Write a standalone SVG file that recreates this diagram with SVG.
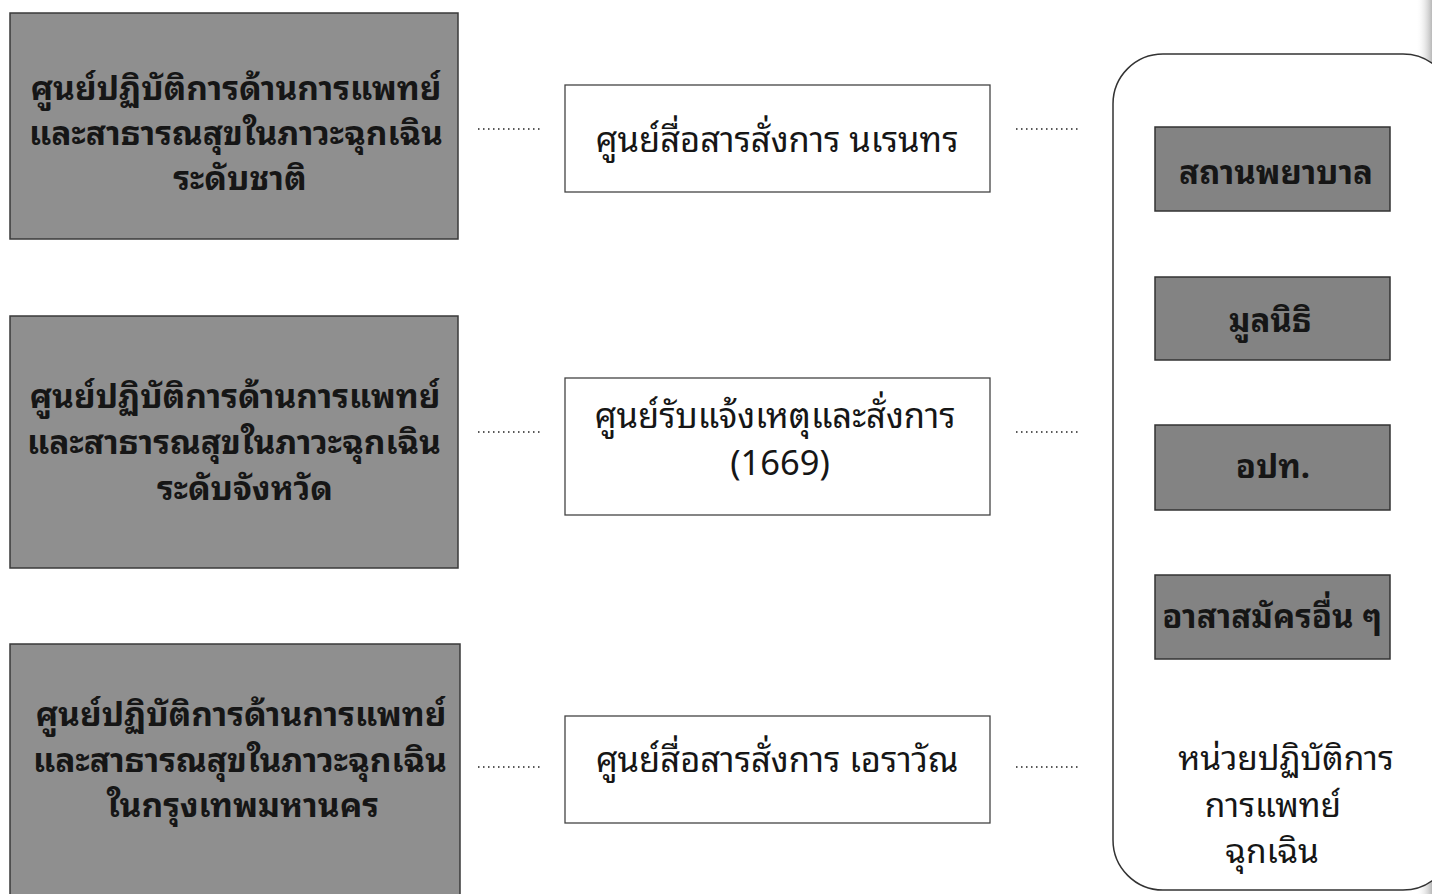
<svg xmlns="http://www.w3.org/2000/svg" width="1432" height="894" viewBox="0 0 1432 894">
<defs>
<linearGradient id="gutter" x1="0" y1="0" x2="1" y2="0">
<stop offset="0" stop-color="#ffffff" stop-opacity="0"/>
<stop offset="1" stop-color="#b8b8b8"/>
</linearGradient>
</defs>
<style>
text{font-family:"Noto Sans Thai Looped","Noto Sans Thai","Noto Sans","DejaVu Sans",sans-serif;fill:#161616;text-anchor:middle}
.lbox{fill:#8f8f8f;stroke:#3a3a3a;stroke-width:1.5}
.mbox{fill:#ffffff;stroke:#444;stroke-width:1.3}
.rbox{fill:#838383;stroke:#333;stroke-width:1.5}
.lt{font-size:33.5px;font-weight:bold}
.mt{font-size:34.5px}
.rt{font-size:33px;font-weight:bold}
.ct{font-size:33.5px}
.dot{stroke:#222;stroke-width:1.6;stroke-dasharray:1.5 3.5;fill:none}
</style>
<rect width="1432" height="894" fill="#ffffff"/>
<rect x="1416" y="0" width="16" height="894" fill="url(#gutter)"/>

<g id="national">
<rect class="lbox" x="10" y="13" width="448" height="226"/>
<text class="lt" x="236" y="100">ศูนย์ปฏิบัติการด้านการแพทย์</text>
<text class="lt" x="236" y="145">และสาธารณสุขในภาวะฉุกเฉิน</text>
<text class="lt" x="240" y="190">ระดับชาติ</text>
</g>
<g id="provincial">
<rect class="lbox" x="10" y="316" width="448" height="252"/>
<text class="lt" x="235" y="408">ศูนย์ปฏิบัติการด้านการแพทย์</text>
<text class="lt" x="234" y="454">และสาธารณสุขในภาวะฉุกเฉิน</text>
<text class="lt" x="245" y="500">ระดับจังหวัด</text>
</g>
<g id="bangkok">
<rect class="lbox" x="10" y="644" width="450" height="256"/>
<text class="lt" x="241" y="726">ศูนย์ปฏิบัติการด้านการแพทย์</text>
<text class="lt" x="240" y="772">และสาธารณสุขในภาวะฉุกเฉิน</text>
<text class="lt" x="243" y="817">ในกรุงเทพมหานคร</text>
</g>

<g id="narenthorn">
<rect class="mbox" x="565" y="85" width="425" height="107"/>
<text class="mt" x="777" y="152">ศูนย์สื่อสารสั่งการ นเรนทร</text>
</g>
<g id="center1669">
<rect class="mbox" x="565" y="378" width="425" height="137"/>
<text class="mt" x="775" y="428">ศูนย์รับแจ้งเหตุและสั่งการ</text>
<text class="mt" x="780" y="475">(1669)</text>
</g>
<g id="erawan">
<rect class="mbox" x="565" y="716" width="425" height="107"/>
<text class="mt" x="777" y="772">ศูนย์สื่อสารสั่งการ เอราวัณ</text>
</g>

<g id="ems-units">
<rect x="1113" y="54" width="340" height="836" rx="50" ry="50" fill="#ffffff" stroke="#333" stroke-width="1.5"/>
<text class="ct" x="1286" y="770">หน่วยปฏิบัติการ</text>
<text class="ct" x="1273" y="817">การแพทย์</text>
<text class="ct" x="1272" y="863">ฉุกเฉิน</text>
</g>
<g id="hospital">
<rect class="rbox" x="1155" y="127" width="235" height="84"/>
<text class="rt" x="1276" y="184">สถานพยาบาล</text>
</g>
<g id="foundation">
<rect class="rbox" x="1155" y="277" width="235" height="83"/>
<text class="rt" x="1270" y="332">มูลนิธิ</text>
</g>
<g id="local-gov">
<rect class="rbox" x="1155" y="425" width="235" height="85"/>
<text class="rt" x="1273" y="478">อปท.</text>
</g>
<g id="volunteers">
<rect class="rbox" x="1155" y="575" width="235" height="84"/>
<text class="rt" x="1272" y="628">อาสาสมัครอื่น ๆ</text>
</g>

<g id="connectors">
<line class="dot" x1="478" y1="129" x2="543" y2="129"/>
<line class="dot" x1="478" y1="432" x2="543" y2="432"/>
<line class="dot" x1="478" y1="767" x2="543" y2="767"/>
<line class="dot" x1="1016" y1="129" x2="1081" y2="129"/>
<line class="dot" x1="1016" y1="432" x2="1081" y2="432"/>
<line class="dot" x1="1016" y1="767" x2="1081" y2="767"/>
</g>
</svg>
